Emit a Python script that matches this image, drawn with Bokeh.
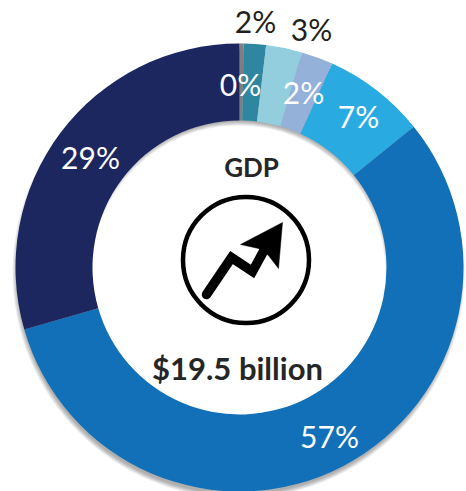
import numpy as np
from bokeh.plotting import figure
from bokeh.embed import file_html
from bokeh.resources import INLINE
from bokeh.core.properties import value

segments = ["Other A", "Other B", "Other C", "Other D", "Other E", "Largest", "Second"]
shares = [0.3, 1.6, 2.6, 2.3, 7.4, 56.4, 29.5]
colors = ["#7f7f80", "#2e86a0", "#92cedd", "#93b1d9", "#29abe2", "#1170b8", "#1c2760"]
labels = ["0%", "2%", "3%", "2%", "7%", "57%", "29%"]
label_colors = ["white", "#231f20", "#231f20", "white", "white", "white", "white"]
label_x = [240, 255, 311, 303, 358, 329, 90]
label_y = [83, 20, 28, 91, 115, 435, 156]
title = "GDP"
subtitle = "$19.5 billion"

W, H = 466, 491
CX, CY = 239, 267
R_OUT, R_IN = 224, 147


def Y(v):
    return H - np.asarray(v, dtype=float)


p = figure(width=W, height=H, x_range=(0, W), y_range=(0, H),
           output_backend="svg", toolbar_location=None, min_border=0,
           outline_line_color=None, background_fill_color="white", border_fill_color="white")
p.axis.visible = False
p.grid.visible = False

# soft drop shadow below the ring
for k in range(5):
    p.annulus(x=CX - 1, y=Y(CY + 5), inner_radius=R_IN + k, outer_radius=R_OUT + 2 - k,
              fill_color="black", fill_alpha=0.07, line_color=None)

edges = np.concatenate([[0], np.cumsum(shares)]) / np.sum(shares) * 2 * np.pi
start = np.pi / 2 - edges[:-1]
end = np.pi / 2 - edges[1:]
p.annular_wedge(x=CX, y=Y(CY), inner_radius=R_IN, outer_radius=R_OUT,
                start_angle=start, end_angle=end, direction="clock",
                fill_color=colors, line_color=None)

p.text(x=label_x, y=Y(label_y), text=labels, text_color=label_colors, text_align="center",
       text_baseline="middle", text_font=value("Lato"), text_font_size="30px")
p.text(x=[251], y=Y([166]), text=[title], text_color="#262626", text_align="center",
       text_baseline="middle", text_font=value("Lato"), text_font_style="bold", text_font_size="26px")
p.text(x=[237], y=Y([367]), text=[subtitle], text_color="#262626", text_align="center",
       text_baseline="middle", text_font=value("Lato"), text_font_style="bold", text_font_size="31px")

# icon
p.circle(x=245.5, y=Y(259.5), radius=63, fill_color=None, line_color="black", line_width=4.5)
p.line(x=[206, 231, 252, 264], y=Y([294, 257, 271, 249]), line_color="black", line_width=9.5,
       line_cap="round", line_join="miter")
p.patch(x=[282, 240, 258, 268, 278], y=Y([222, 244, 248, 255, 268]),
        fill_color="black", line_color="black", line_width=0.5)

open("out.html", "w").write(file_html(p, INLINE))
